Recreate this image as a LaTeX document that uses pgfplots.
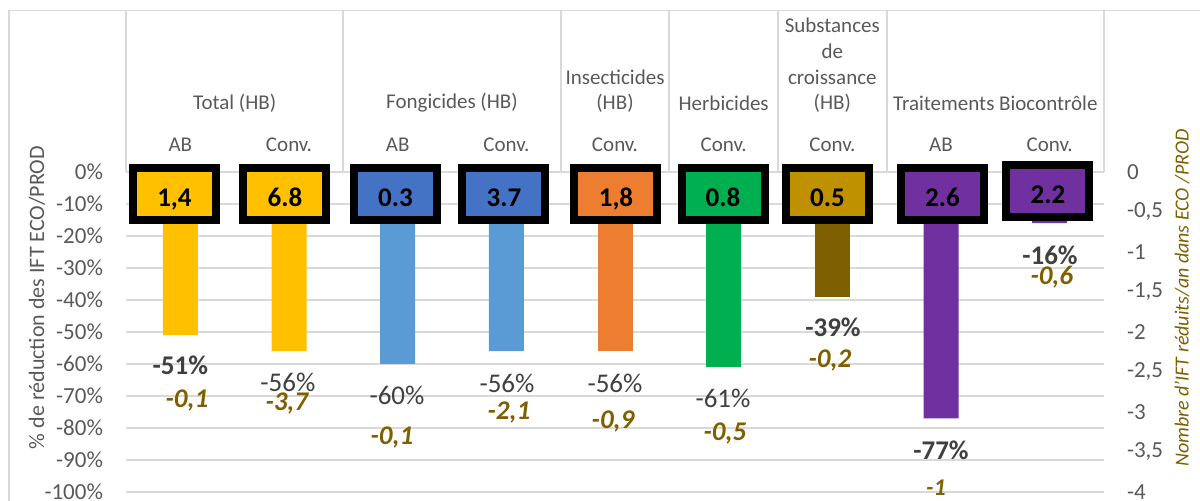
\documentclass[border=0pt]{standalone}
\usepackage{fontspec}
\setmainfont{Carlito}
\usepackage{pgfplots}
\pgfplotsset{compat=1.18}
\definecolor{cgold}{HTML}{FFC000}
\definecolor{cbluebox}{HTML}{4472C4}
\definecolor{cbluebar}{HTML}{5B9BD5}
\definecolor{corange}{HTML}{ED7D31}
\definecolor{cgreen}{HTML}{00B050}
\definecolor{csubbox}{HTML}{BF9000}
\definecolor{csubbar}{HTML}{7F6000}
\definecolor{cpurple}{HTML}{7030A0}
\definecolor{ctick}{HTML}{595959}
\definecolor{clab}{HTML}{404040}
\definecolor{cbrown}{HTML}{7F6000}
\definecolor{cgrid}{HTML}{D9D9D9}
\newcommand{\hdr}{\fontsize{10.5bp}{13bp}\selectfont}
\newcommand{\lab}{\fontsize{13.5bp}{16bp}\selectfont}
\begin{document}
\begin{tikzpicture}
\useasboundingbox (0,0) rectangle (600bp,250.5bp);
\draw[cgrid, line width=0.9bp] (4.5bp,0) -- (4.5bp,245.25bp) -- (600bp,245.25bp);
\begin{axis}[
  at={(63bp,4.5bp)}, anchor=south west, scale only axis,
  width=489bp, height=160bp,
  xmin=-0.5, xmax=8.5, ymin=-100, ymax=0, clip=false,
  axis line style={draw=none}, xtick=\empty,
  ytick={-100,-90,-80,-70,-60,-50,-40,-30,-20,-10,0},
  yticklabels={-100\%,-90\%,-80\%,-70\%,-60\%,-50\%,-40\%,-30\%,-20\%,-10\%,0\%},
  ymajorgrids, grid style={cgrid, line width=0.9bp},
  major tick length=0pt,
  yticklabel style={font=\fontsize{11.5bp}{13bp}\selectfont, text=ctick, xshift=-8bp},
]
% bars
\addplot[ybar, bar width=17.5bp, bar shift=0pt, fill=cgold, draw=none] coordinates {(0,-51) (1,-56)};
\addplot[ybar, bar width=17.5bp, bar shift=0pt, fill=cbluebar, draw=none] coordinates {(2,-60) (3,-56)};
\addplot[ybar, bar width=17.5bp, bar shift=0pt, fill=corange, draw=none] coordinates {(4,-56)};
\addplot[ybar, bar width=17.5bp, bar shift=0pt, fill=cgreen, draw=none] coordinates {(5,-61)};
\addplot[ybar, bar width=17.5bp, bar shift=0pt, fill=csubbar, draw=none] coordinates {(6,-39)};
\addplot[ybar, bar width=17.5bp, bar shift=0pt, fill=cpurple, draw=none] coordinates {(7,-77) (8,-16)};
% header separators
\draw[cgrid, line width=0.9bp] (axis cs:-0.5,0) -- (axis cs:-0.5,50.3);
\draw[cgrid, line width=0.9bp] (axis cs:1.5,0) -- (axis cs:1.5,50.3);
\draw[cgrid, line width=0.9bp] (axis cs:3.5,0) -- (axis cs:3.5,50.3);
\draw[cgrid, line width=0.9bp] (axis cs:4.5,0) -- (axis cs:4.5,50.3);
\draw[cgrid, line width=0.9bp] (axis cs:5.5,0) -- (axis cs:5.5,50.3);
\draw[cgrid, line width=0.9bp] (axis cs:6.5,0) -- (axis cs:6.5,50.3);
\draw[cgrid, line width=0.9bp] (axis cs:8.5,0) -- (axis cs:8.5,50.3);
% header texts
\node[font=\hdr, text=ctick] at (axis cs:0.5,21.6) {Total (HB)};
\node[font=\hdr, text=ctick] at (axis cs:2.5,21.6) {Fongicides (HB)};
\node[font=\hdr, text=ctick] at (axis cs:4,29.7) {Insecticides};
\node[font=\hdr, text=ctick] at (axis cs:4,21.6) {(HB)};
\node[font=\hdr, text=ctick] at (axis cs:5,21.6) {Herbicides};
\node[font=\hdr, text=ctick] at (axis cs:6,45.9) {Substances};
\node[font=\hdr, text=ctick] at (axis cs:6,37.8) {de};
\node[font=\hdr, text=ctick] at (axis cs:6,29.7) {croissance};
\node[font=\hdr, text=ctick] at (axis cs:6,21.6) {(HB)};
\node[font=\hdr, text=ctick] at (axis cs:7.5,21.6) {Traitements Biocontrôle};
\node[font=\hdr, text=ctick] at (axis cs:0,8.4) {AB};
\node[font=\hdr, text=ctick] at (axis cs:1,8.4) {Conv.};
\node[font=\hdr, text=ctick] at (axis cs:2,8.4) {AB};
\node[font=\hdr, text=ctick] at (axis cs:3,8.4) {Conv.};
\node[font=\hdr, text=ctick] at (axis cs:4,8.4) {Conv.};
\node[font=\hdr, text=ctick] at (axis cs:5,8.4) {Conv.};
\node[font=\hdr, text=ctick] at (axis cs:6,8.4) {Conv.};
\node[font=\hdr, text=ctick] at (axis cs:7,8.4) {AB};
\node[font=\hdr, text=ctick] at (axis cs:8,8.4) {Conv.};
% boxes
\draw[line width=4bp, fill=cgold] (axis cs:-0.436,1.25) rectangle (axis cs:0.328,-15);
\draw[line width=4bp, fill=cgold] (axis cs:0.581,1.25) rectangle (axis cs:1.345,-15);
\draw[line width=4bp, fill=cbluebox] (axis cs:1.598,1.25) rectangle (axis cs:2.362,-15);
\draw[line width=4bp, fill=cbluebox] (axis cs:2.596,1.25) rectangle (axis cs:3.360,-15);
\draw[line width=4bp, fill=corange] (axis cs:3.627,1.25) rectangle (axis cs:4.391,-15);
\draw[line width=4bp, fill=cgreen] (axis cs:4.612,1.25) rectangle (axis cs:5.376,-15);
\draw[line width=4bp, fill=csubbox] (axis cs:5.573,1.25) rectangle (axis cs:6.337,-15);
\draw[line width=4bp, fill=cpurple] (axis cs:6.632,1.25) rectangle (axis cs:7.396,-15);
\draw[line width=4bp, fill=cpurple] (axis cs:7.602,2.19) rectangle (axis cs:8.366,-14.06);
\node[font=\bfseries\lab, anchor=base] at (axis cs:-0.054,-10.9) {1,4};
\node[font=\bfseries\lab, anchor=base] at (axis cs:0.963,-10.9) {6.8};
\node[font=\bfseries\lab, anchor=base] at (axis cs:1.98,-10.9) {0.3};
\node[font=\bfseries\lab, anchor=base] at (axis cs:2.978,-10.9) {3.7};
\node[font=\bfseries\lab, anchor=base] at (axis cs:4.009,-10.9) {1,8};
\node[font=\bfseries\lab, anchor=base] at (axis cs:4.994,-10.9) {0.8};
\node[font=\bfseries\lab, anchor=base] at (axis cs:5.955,-10.9) {0.5};
\node[font=\bfseries\lab, anchor=base] at (axis cs:7.014,-10.9) {2.6};
\node[font=\bfseries\lab, anchor=base] at (axis cs:7.984,-9.9) {2.2};
% percentage labels
\node[font=\bfseries\lab, text=clab] at (axis cs:0,-60.3) {-51\%};
\node[font=\lab, text=clab] at (axis cs:0.99,-65.6) {-56\%};
\node[font=\lab, text=clab] at (axis cs:1.994,-69.7) {-60\%};
\node[font=\lab, text=clab] at (axis cs:3.006,-66.0) {-56\%};
\node[font=\lab, text=clab] at (axis cs:4.0,-66.0) {-56\%};
\node[font=\lab, text=clab] at (axis cs:4.994,-70.6) {-61\%};
\node[font=\bfseries\lab, text=clab] at (axis cs:6.006,-48.4) {-39\%};
\node[font=\bfseries\lab, text=clab] at (axis cs:7.0,-86.9) {-77\%};
\node[font=\bfseries\lab, text=clab] at (axis cs:8.003,-26.0) {-16\%};
% IFT labels
\node[font=\bfseries\itshape\lab, text=cbrown] at (axis cs:0.061,-71.25) {-0,1};
\node[font=\bfseries\itshape\lab, text=cbrown] at (axis cs:0.98,-72.2) {-3,7};
\node[font=\bfseries\itshape\lab, text=cbrown] at (axis cs:1.948,-83.1) {-0,1};
\node[font=\bfseries\itshape\lab, text=cbrown] at (axis cs:3.024,-75.0) {-2,1};
\node[font=\bfseries\itshape\lab, text=cbrown] at (axis cs:3.982,-78.1) {-0,9};
\node[font=\bfseries\itshape\lab, text=cbrown] at (axis cs:5.012,-81.6) {-0,5};
\node[font=\bfseries\itshape\lab, text=cbrown] at (axis cs:5.978,-58.75) {-0,2};
\node[font=\bfseries\itshape\fontsize{12bp}{14bp}\selectfont, text=cbrown] at (axis cs:6.954,-98.6) {-1};
\node[font=\bfseries\itshape\lab, text=cbrown] at (axis cs:8.02,-32.8) {-0,6};
\end{axis}
\begin{axis}[
  at={(63bp,4.5bp)}, anchor=south west, scale only axis,
  width=489bp, height=160bp,
  xmin=-0.5, xmax=8.5, ymin=-4, ymax=0,
  hide x axis, axis y line*=right, axis line style={draw=none},
  major tick length=0pt,
  ytick={-4,-3.5,-3,-2.5,-2,-1.5,-1,-0.5,0},
  yticklabels={{-4},{-3,5},{-3},{-2,5},{-2},{-1,5},{-1},{-0,5},{0}},
  yticklabel style={font=\fontsize{11.5bp}{13bp}\selectfont, text=ctick, xshift=8bp},
]
\addplot[draw=none] coordinates {(0,0)};
\end{axis}
\node[rotate=90, font=\fontsize{11bp}{13bp}\selectfont, text=ctick] at (18.5bp,101.75bp) {\% de réduction des IFT ECO/PROD};
\node[rotate=90, font=\itshape\fontsize{10bp}{12bp}\selectfont, text=cbrown] at (591bp,101.5bp) {Nombre d'IFT réduits/an dans ECO /PROD};
\end{tikzpicture}
\end{document}
